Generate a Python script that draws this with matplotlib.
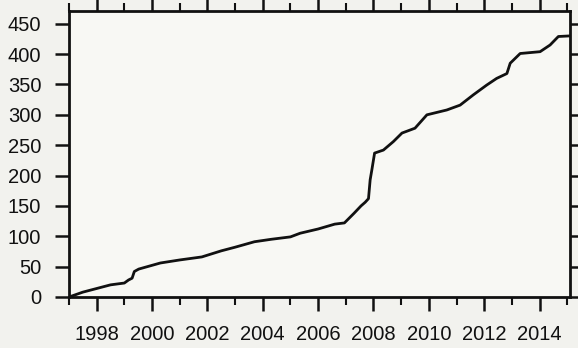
import numpy as np
import matplotlib.pyplot as plt
from matplotlib.ticker import MultipleLocator

# cumulative count
years = [1997.0, 1997.5, 1998.0, 1998.5, 1999.0, 1999.15, 1999.28, 1999.36, 1999.52,
         2000.3, 2001.0, 2001.8, 2002.5, 2003.0, 2003.7, 2004.3, 2005.0, 2005.35,
         2006.0, 2006.6, 2006.95, 2007.3, 2007.55, 2007.7, 2007.82, 2007.88, 2007.94,
         2008.04, 2008.36, 2008.72, 2009.03, 2009.5, 2009.93, 2010.65, 2011.13,
         2011.61, 2012.09, 2012.45, 2012.82, 2012.94, 2013.3, 2014.02, 2014.38,
         2014.68, 2015.1]
counts = [0, 8, 14, 20, 23, 28, 31, 42, 46,
          56, 61, 66, 76, 82, 91, 95, 99, 105,
          112, 120, 122, 138, 150, 156, 162, 193, 209,
          237, 242, 256, 270, 278, 300, 308, 316,
          333, 349, 360, 368, 385, 401, 404, 415,
          429, 430]

x_major = [1998, 2000, 2002, 2004, 2006, 2008, 2010, 2012, 2014]
y_major = [0, 50, 100, 150, 200, 250, 300, 350, 400, 450]

plt.rcParams['font.family'] = ['Liberation Sans', 'DejaVu Sans']

fig = plt.figure(figsize=(5.78, 3.48), dpi=100, facecolor='#f2f2ee')
ax = fig.add_axes([69/578, 1 - 297/348, (570-69)/578, (297-11)/348])
ax.set_facecolor('#f8f8f4')

ax.plot(years, counts, color='#111111', lw=2.0, solid_joinstyle='round')

ax.set_xlim(1997.0, 2015.1)
ax.set_ylim(0, 471)
ax.set_xticks(x_major)
ax.set_yticks(y_major)
ax.xaxis.set_minor_locator(MultipleLocator(1))

for s in ax.spines.values():
    s.set_linewidth(2.0)
    s.set_color('#111111')

ax.tick_params(axis='both', which='major', direction='out', length=10, width=1.8,
               labelsize=14.5, pad=10, colors='#111111', top=True, right=True)
ax.tick_params(axis='x', which='minor', direction='out', length=6, width=1.5,
               top=True, colors='#111111')
ax.tick_params(axis='y', which='both', labelright=False)
ax.tick_params(axis='x', labeltop=False)

plt.savefig("out.png", dpi=100, facecolor=fig.get_facecolor())
